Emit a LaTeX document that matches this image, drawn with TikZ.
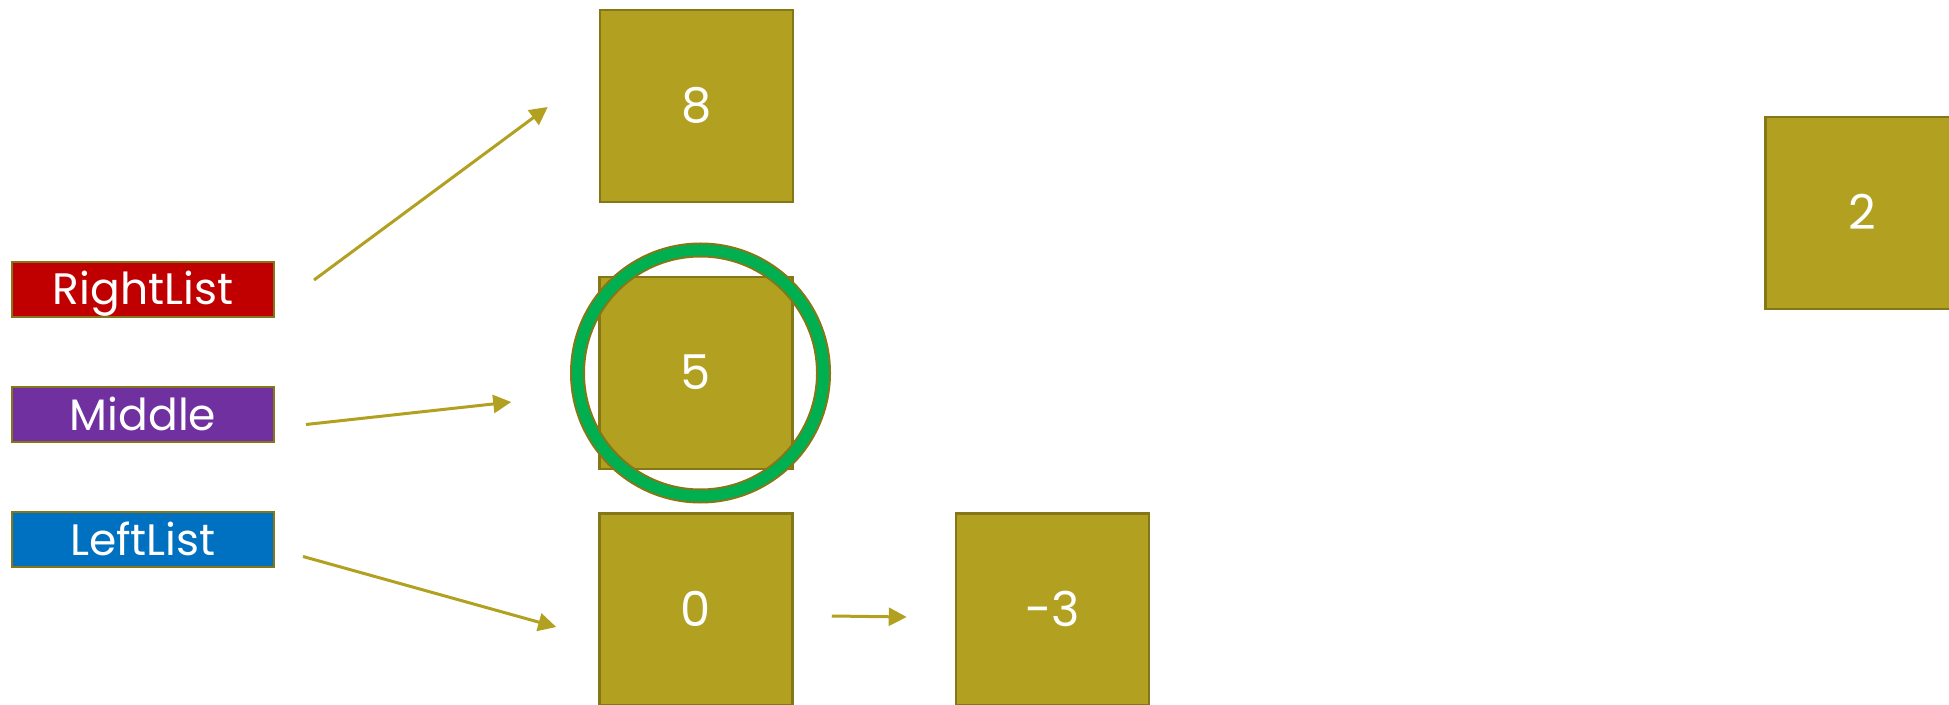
\documentclass[tikz,border=0pt]{standalone}
\usepackage{fontspec}
\setmainfont{Poppins}
\setsansfont{Poppins}
\usepackage{xcolor}
\definecolor{lstfill}{HTML}{B2A020}
\definecolor{lstedge}{HTML}{857718}
\definecolor{lstred}{HTML}{C00000}
\definecolor{lstpurple}{HTML}{7030A0}
\definecolor{lstblue}{HTML}{0070C0}
\definecolor{lstgreen}{HTML}{00B050}
\usetikzlibrary{arrows.meta,positioning,calc}
\tikzset{
  lstcell/.style={draw=lstedge,line width=1.25pt,fill=lstfill,minimum width=96.5pt,minimum height=96pt,inner sep=0pt,text=white,text height=17pt,text depth=0pt,font=\fontsize{24}{28}\selectfont},
  lsttag/.style={draw=lstedge,line width=1pt,minimum width=131pt,minimum height=27.5pt,inner sep=0pt,text=white,text height=15.5pt,text depth=0pt,font=\fontsize{22}{26}\selectfont},
  lstflow/.style={-{Triangle[length=9pt,width=9pt]},draw=lstfill,line width=1.5pt},
  lstring/.style={circle,draw=lstedge,line width=1pt,double=lstgreen,double distance=5.5pt,minimum size=123pt,inner sep=0pt},
}
\begin{document}
\begin{tikzpicture}[x=0.5pt,y=-0.5pt,node distance=34pt and 80.5pt]
\useasboundingbox (0,0) rectangle (1949,705);
\node[lstcell] (c8) at (696.5,106) {8};
\node[lstcell] (c5) at (696,373) {5};
\node[lstcell] (c0) at (696,609.5) {0};
\node[lstcell,right=of c0] (cm3) {-3};
\node[lstcell] (c2) at (1862,213) {2};
\node[lsttag,fill=lstred] (rl) at (143,289.5) {RightList};
\node[lsttag,fill=lstpurple,below=of rl] (md) {Middle};
\node[lsttag,fill=lstblue,below=of md] (ll) {LeftList};
\node[lstring] (pick) at (700.5,373) {};
\draw[lstflow] ($(rl.east)+(39,-9.5)$) -- ($(c8.west)+(-51,1)$);
\draw[lstflow] ($(md.east)+(31,10)$) -- ($(c5.west)+(-87,29)$);
\draw[lstflow] ($(ll.east)+(28,17)$) -- ($(c0.west)+(-42,17.5)$);
\draw[lstflow] ($(c0.east)+(38,6.5)$) -- ($(cm3.west)+(-48,7.5)$);
\end{tikzpicture}
\end{document}
